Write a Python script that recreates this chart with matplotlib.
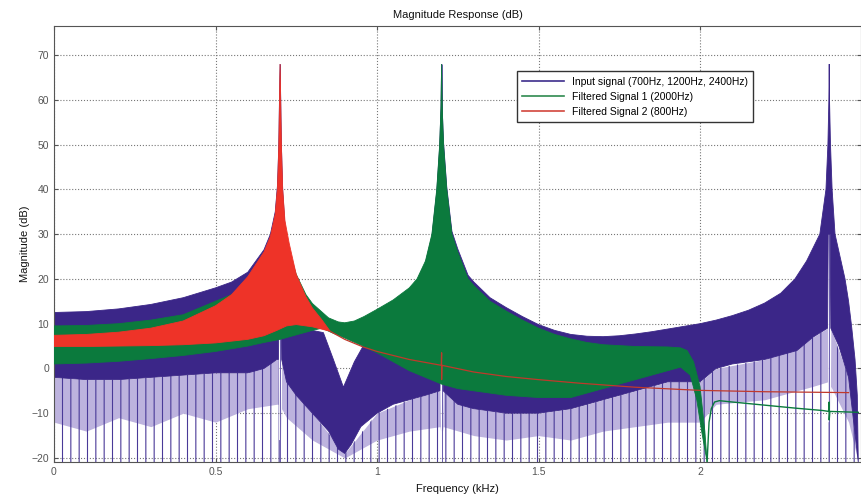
import numpy as np
import matplotlib.pyplot as plt
from matplotlib.lines import Line2D

plt.rcParams['font.family'] = ['Liberation Sans', 'DejaVu Sans']
plt.rcParams['hatch.linewidth'] = 0.8

# ---- values (frequency in kHz, magnitude in dB) ----

# Input signal: upper edge of the dense band
f_blue_up = [0.00, 0.10, 0.20, 0.30, 0.40, 0.50, 0.55, 0.60, 0.65, 0.67, 0.685, 0.692,
             0.696, 0.698, 0.70, 0.702, 0.704, 0.708, 0.715, 0.72, 0.75, 0.80, 0.834,
             0.865, 0.896, 0.93, 0.958, 0.965, 1.00, 1.05, 1.10, 1.124, 1.15, 1.17,
             1.185, 1.194, 1.198, 1.20, 1.202, 1.206, 1.216, 1.232, 1.25, 1.282, 1.30,
             1.35, 1.40, 1.45, 1.50, 1.55, 1.60, 1.65, 1.70, 1.75, 1.80, 1.85, 1.90,
             1.95, 2.00, 2.05, 2.10, 2.15, 2.20, 2.25, 2.294, 2.33, 2.371, 2.39, 2.396,
             2.399, 2.40, 2.401, 2.404, 2.409, 2.418, 2.449, 2.46, 2.47, 2.48, 2.487, 2.49]
blue_up = [12.5, 12.7, 13.3, 14.3, 15.8, 18.0, 19.3, 21.5, 26.5, 30.0, 35.0, 41.0,
           50.0, 60.0, 68.0, 60.0, 50.0, 40.0, 32.0, 28.0, 12.0, 8.5, 8.0,
           2.0, -4.2, 1.5, 5.1, 10.0, 12.7, 15.0, 17.6, 19.6, 23.5, 29.5,
           39.5, 49.5, 58.0, 68.0, 58.0, 50.5, 40.5, 30.6, 26.7, 20.8, 19.3,
           15.8, 13.6, 11.6, 9.8, 8.5, 7.6, 7.2, 7.1, 7.3, 7.7, 8.2, 8.8,
           9.4, 10.0, 10.8, 11.8, 13.0, 14.6, 16.8, 20.0, 24.0, 30.0, 40.0, 50.0,
           60.0, 68.0, 60.0, 50.0, 40.0, 30.0, 20.0, 15.0, 9.0, 2.0, -6.0, -20.9]

# Input signal: lower edge of the dense band (white columns at the tones)
f_blue_lo = [0.00, 0.10, 0.20, 0.30, 0.40, 0.50, 0.60, 0.65, 0.69, 0.695, 0.697, 0.703,
             0.705, 0.72, 0.75, 0.80, 0.85, 0.88, 0.90, 0.92, 0.95, 1.00, 1.05, 1.10,
             1.15, 1.195, 1.197, 1.203, 1.205, 1.25, 1.30, 1.40, 1.50, 1.60, 1.70,
             1.80, 1.90, 2.00, 2.05, 2.10, 2.20, 2.30, 2.35, 2.395, 2.397, 2.403,
             2.405, 2.43, 2.46, 2.49]
blue_lo = [-2.0, -2.5, -2.5, -2.0, -1.5, -1.0, -1.0, 0.0, 2.0, 2.0, 16.0, 16.0,
           2.0, -3.0, -6.0, -10.0, -14.0, -18.0, -19.0, -17.0, -13.0, -10.0, -8.0, -7.0,
           -6.0, -5.0, 16.0, 16.0, -5.0, -8.0, -9.0, -10.0, -10.0, -9.0, -7.0,
           -5.0, -3.0, -3.0, 0.0, 1.0, 2.0, 4.0, 7.0, 9.0, 30.0, 30.0,
           9.0, 5.0, -2.0, -20.9]

# Input signal: spiky zone under the dense band
f_spike = [0.00, 0.10, 0.20, 0.30, 0.40, 0.50, 0.60, 0.69, 0.695, 0.697, 0.703, 0.705,
           0.72, 0.80, 0.90, 1.00, 1.10, 1.195, 1.197, 1.203, 1.205, 1.30, 1.40, 1.50,
           1.60, 1.70, 1.80, 1.90, 2.00, 2.05, 2.20, 2.35, 2.395, 2.397, 2.403, 2.405,
           2.46, 2.49]
spike_top = [-2.0, -2.5, -2.5, -2.0, -1.5, -1.0, -1.0, 2.0, 2.0, -16.0, -16.0, 2.0,
             -3.0, -10.0, -19.0, -10.0, -7.0, -5.0, -14.0, -14.0, -5.0, -9.0, -10.0, -10.0,
             -9.0, -7.0, -5.0, -3.0, -3.0, 0.0, 2.0, 7.0, 9.0, -12.0, -12.0, 9.0,
             -2.0, -20.9]
spike_mid = [-12.0, -14.0, -11.0, -13.0, -10.0, -12.0, -9.0, -8.0, -8.0, -16.0, -16.0, -9.0,
             -11.0, -16.0, -20.0, -16.0, -14.0, -13.0, -14.0, -14.0, -13.0, -15.0, -16.0, -15.0,
             -16.0, -14.0, -13.0, -12.0, -12.0, -8.0, -7.0, -4.0, -3.0, -12.0, -12.0, -4.0,
             -12.0, -20.9]

# tone lines of the input signal
tone_f = [0.7, 1.2, 2.4]
tone_db = [68, 68, 68]

# Filtered signal 1: band
f_green_up = [0.00, 0.10, 0.20, 0.30, 0.40, 0.50, 0.60, 0.65, 0.68, 0.70, 0.72, 0.75,
              0.78, 0.80, 0.85, 0.88, 0.90, 0.93, 0.96, 1.00, 1.05, 1.10, 1.124, 1.15,
              1.17, 1.185, 1.194, 1.198, 1.20, 1.202, 1.206, 1.216, 1.232, 1.25, 1.282,
              1.30, 1.35, 1.40, 1.45, 1.50, 1.55, 1.60, 1.65, 1.70, 1.80, 1.90, 1.94,
              1.96, 1.98, 2.00, 2.015, 2.022]
green_up = [9.5, 9.6, 10.0, 10.8, 12.0, 15.0, 18.0, 22.0, 28.0, 34.0, 28.0, 21.0,
            16.5, 14.5, 11.3, 10.4, 10.2, 10.6, 11.6, 13.2, 15.3, 18.0, 20.0, 24.0,
            30.0, 40.0, 50.0, 58.0, 68.0, 58.0, 50.0, 40.0, 30.0, 26.0, 20.0,
            18.5, 15.0, 12.8, 10.8, 9.0, 7.6, 6.6, 5.8, 5.3, 4.9, 4.8, 4.6,
            4.0, 1.5, -4.0, -14.0, -20.9]
f_green_lo = [0.00, 0.10, 0.20, 0.30, 0.40, 0.50, 0.60, 0.65, 0.70, 0.75, 0.80, 0.83,
              0.86, 0.90, 0.95, 1.00, 1.05, 1.10, 1.15, 1.20, 1.25, 1.30, 1.40, 1.50,
              1.60, 1.70, 1.80, 1.85, 1.90, 1.94, 1.97, 1.99, 2.005, 2.022]
green_lo = [1.0, 1.2, 1.6, 2.2, 2.9, 3.8, 5.0, 5.8, 6.5, 7.5, 8.5, 9.0,
            8.0, 6.8, 5.2, 3.5, 1.5, -0.5, -2.0, -3.5, -4.5, -5.0, -6.0, -6.5,
            -6.5, -4.5, -2.5, -1.5, -0.5, 0.3, -1.5, -7.0, -14.0, -20.9]
# Filtered signal 1: wedge and thin trace after the notch
f_green_line = [2.022, 2.028, 2.035, 2.045, 2.06, 2.10, 2.20, 2.30, 2.38, 2.398, 2.40,
                2.40, 2.402, 2.49]
green_line = [-20.9, -12.0, -9.0, -7.5, -7.2, -7.5, -8.2, -8.9, -9.4, -9.6, -7.5,
              -11.5, -9.6, -9.8]

# Filtered signal 2: band
f_red_up = [0.00, 0.10, 0.20, 0.30, 0.40, 0.50, 0.55, 0.60, 0.65, 0.67, 0.685, 0.692,
            0.696, 0.698, 0.70, 0.702, 0.704, 0.708, 0.715, 0.728, 0.75, 0.78, 0.80,
            0.83, 0.855]
red_up = [7.4, 7.6, 8.1, 9.0, 10.6, 14.0, 16.5, 20.5, 26.0, 29.5, 34.5, 40.5,
          49.5, 59.0, 68.0, 59.0, 50.0, 40.0, 33.0, 28.0, 21.0, 16.0, 13.5,
          10.8, 8.3]
f_red_lo = [0.00, 0.10, 0.20, 0.30, 0.40, 0.50, 0.60, 0.65, 0.69, 0.72, 0.75, 0.80, 0.855]
red_lo = [4.9, 4.9, 5.0, 5.1, 5.3, 5.7, 6.5, 7.3, 8.5, 9.5, 9.8, 9.3, 8.3]
# Filtered signal 2: thin trace
f_red_line = [0.855, 0.90, 0.957, 1.00, 1.10, 1.199, 1.20, 1.20, 1.201, 1.30, 1.40, 1.50,
              1.628, 1.80, 2.00, 2.20, 2.46]
red_line = [8.3, 6.5, 4.8, 3.8, 2.0, 0.7, 3.5, -2.5, 0.7, -0.8, -1.8, -2.5,
            -3.3, -4.2, -4.9, -5.2, -5.4]

labels = ['Input signal (700Hz, 1200Hz, 2400Hz)',
          'Filtered Signal 1 (2000Hz)',
          'Filtered Signal 2 (800Hz)']

blue = '#3b2688'
blue_light = '#bdb3de'
green = '#0b7a3d'
red = '#ee3328'

y_bottom = -20.9


def band(ax, fu, up, fl, lo, color, z):
    xs = np.concatenate([fu, fl[::-1]])
    ys = np.concatenate([up, lo[::-1]])
    ax.fill(xs, ys, color=color, lw=0.6, ec=color, zorder=z)


fig = plt.figure(figsize=(8.62, 4.97), dpi=100)
ax = fig.add_axes([54 / 862, 35 / 497, 807.5 / 862, 436 / 497])

# spiky part of the input spectrum
ax.fill_between(f_spike, spike_mid, spike_top, color=blue_light, lw=0, zorder=1)
ax.fill_between(f_spike, y_bottom, spike_top, facecolor='none', edgecolor='#4a3a98',
                hatch='||', lw=0, zorder=1.5)
ax.vlines(tone_f, y_bottom, tone_db, color='#6a5cae', lw=0.7, zorder=1.6)

band(ax, np.array(f_blue_up), np.array(blue_up), np.array(f_blue_lo), np.array(blue_lo), blue, 2)
band(ax, np.array(f_green_up), np.array(green_up), np.array(f_green_lo), np.array(green_lo), green, 3)
ax.plot(f_green_line, green_line, color=green, lw=1.0, zorder=3)
band(ax, np.array(f_red_up), np.array(red_up), np.array(f_red_lo), np.array(red_lo), red, 4)
ax.plot(f_red_line, red_line, color='#c0392b', lw=0.9, zorder=4.5)

ax.set_xlim(0, 2.5)
ax.set_ylim(y_bottom, 76.5)
ax.set_xticks([0, 0.5, 1, 1.5, 2])
ax.set_xticklabels(['0', '0.5', '1', '1.5', '2'])
ax.set_yticks(range(-20, 71, 10))
ax.tick_params(direction='in', length=3, labelsize=7.5, colors='#555555',
               top=True, right=True)
ax.grid(True, linestyle=':', color='#777777', lw=0.8)
ax.set_axisbelow(True)
for s in ax.spines.values():
    s.set_color('#555555')
    s.set_linewidth(0.8)

ax.set_title('Magnitude Response (dB)', fontsize=8, color='#111111', pad=6)
ax.set_xlabel('Frequency (kHz)', fontsize=8, color='#111111', labelpad=5)
ax.set_ylabel('Magnitude (dB)', fontsize=8, color='#111111', labelpad=1)

handles = [Line2D([], [], color='#3d2d8c', lw=1.2),
           Line2D([], [], color='#2f8a4f', lw=1.2),
           Line2D([], [], color='#d2453c', lw=1.2)]
leg = ax.legend(handles, labels, loc='upper left', bbox_to_anchor=(0.567, 0.908),
                fontsize=7.5, frameon=True, fancybox=False, framealpha=1,
                edgecolor='#333333', handlelength=4.0, borderpad=0.5, labelspacing=0.5)
leg.get_frame().set_linewidth(1.0)
leg.set_zorder(10)

fig.savefig('out.png', dpi=100)
